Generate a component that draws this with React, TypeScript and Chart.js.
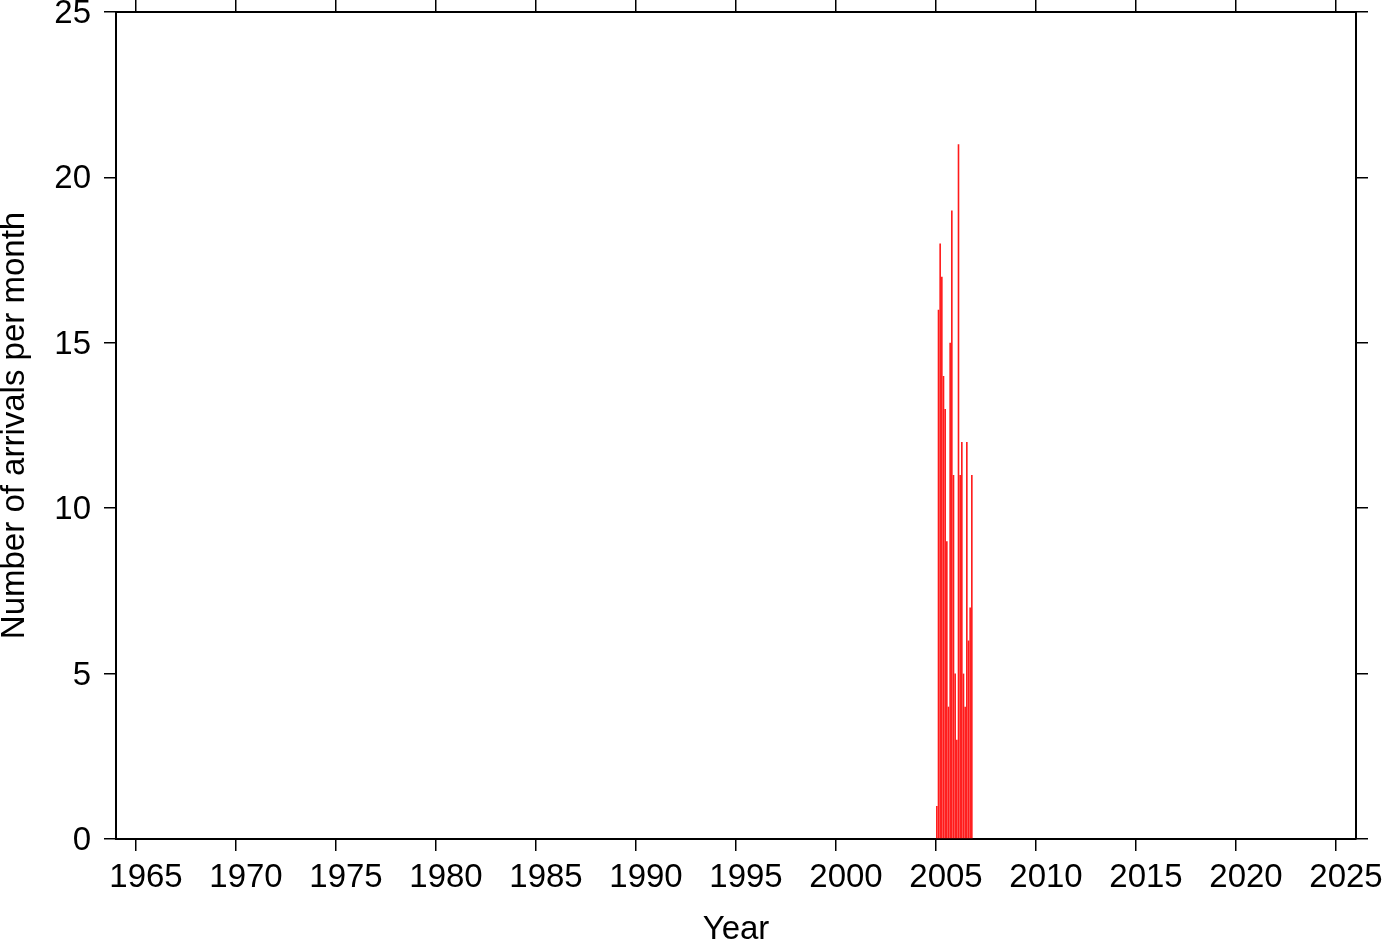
import React, { useEffect, useRef } from "react";
import { Chart, registerables } from "chart.js";

Chart.register(...registerables);

// Monthly arrivals (month, count)
const months = [
  "2005-01", "2005-02", "2005-03", "2005-04", "2005-05", "2005-06",
  "2005-07", "2005-08", "2005-09", "2005-10", "2005-11", "2005-12",
  "2006-01", "2006-02", "2006-03", "2006-04", "2006-05", "2006-06",
  "2006-07", "2006-08", "2006-09", "2006-10",
];
const arrivals = [1, 16, 18, 17, 14, 13, 9, 4, 15, 19, 11, 5, 3, 21, 11, 12, 5, 4, 12, 6, 7, 11];

const yearTicks = [1965, 1970, 1975, 1980, 1985, 1990, 1995, 2000, 2005, 2010, 2015, 2020, 2025];
const countTicks = [0, 5, 10, 15, 20, 25];
const xMin = 1964;
const xMax = 2026;
const yMin = 0;
const yMax = 25;

const xTitle = "Year";
const yTitle = "Number of arrivals per month";

function monthToYear(m: string): number {
  const [y, mo] = m.split("-").map(Number);
  return y + (mo - 0.5) / 12;
}

const FONT = "'Liberation Sans', Arial, Helvetica, sans-serif";

export default function App() {
  const ref = useRef<HTMLCanvasElement | null>(null);

  useEffect(() => {
    if (!ref.current) return;
    const fixTicks = (vals: number[]) => (scale: any) => {
      scale.ticks = vals.map((v) => ({ value: v }));
    };
    const fit = (w: number | null, h: number | null) => (s: any) => {
      if (w !== null) s.width = w;
      if (h !== null) s.height = h;
      s.paddingTop = 0;
      s.paddingBottom = 0;
      s.paddingLeft = 0;
      s.paddingRight = 0;
    };
    const gridOpts = {
      drawOnChartArea: false,
      drawTicks: true,
      tickLength: 12,
      color: "#000",
      lineWidth: 1.5,
      offset: false,
    };
    const borderOpts = { display: true, color: "#000", width: 2 };

    const chart = new Chart(ref.current, {
      type: "bar",
      data: {
        datasets: [
          {
            data: months.map((m, i) => ({ x: monthToYear(m), y: arrivals[i] })),
            backgroundColor: "#ff1a1a",
            borderWidth: 0,
            barPercentage: 0.97,
            categoryPercentage: 1,
            xAxisID: "x",
            yAxisID: "y",
          },
        ],
      },
      options: {
        responsive: false,
        animation: false,
        devicePixelRatio: 1,
        layout: { padding: 0 },
        plugins: { legend: { display: false }, tooltip: { enabled: false } },
        font: { family: FONT },
        scales: {
          x: {
            type: "linear",
            position: "bottom",
            offset: false,
            min: xMin,
            max: xMax,
            afterBuildTicks: fixTicks(yearTicks),
            afterFit: fit(null, 103),
            grid: gridOpts,
            border: borderOpts,
            ticks: {
              color: "#000",
              font: { family: FONT, size: 33 },
              padding: 7,
              labelOffset: 10,
              maxRotation: 0,
              minRotation: 0,
              autoSkip: false,
              callback: (v: any) => String(v),
            },
            title: {
              display: true,
              text: xTitle,
              color: "#000",
              font: { family: FONT, size: 33, lineHeight: 0.75 },
              padding: 0,
            },
          },
          x2: {
            type: "linear",
            position: "top",
            offset: false,
            min: xMin,
            max: xMax,
            afterBuildTicks: fixTicks(yearTicks),
            afterFit: fit(null, 12),
            grid: gridOpts,
            border: borderOpts,
            ticks: { display: false },
          },
          y: {
            type: "linear",
            position: "left",
            min: yMin,
            max: yMax,
            afterBuildTicks: fixTicks(countTicks),
            afterFit: fit(116, null),
            grid: gridOpts,
            border: borderOpts,
            ticks: {
              color: "#000",
              font: { family: FONT, size: 33 },
              padding: 13,
              labelOffset: 2,
              callback: (v: any) => String(v),
            },
            title: {
              display: true,
              text: yTitle,
              color: "#000",
              font: { family: FONT, size: 33, lineHeight: 0.9 },
              padding: 0,
            },
          },
          y2: {
            type: "linear",
            position: "right",
            min: yMin,
            max: yMax,
            afterBuildTicks: fixTicks(countTicks),
            afterFit: fit(26, null),
            grid: gridOpts,
            border: borderOpts,
            ticks: { display: false },
          },
        },
      } as any,
    });
    return () => chart.destroy();
  }, []);

  return (
    <div style={{ position: "absolute", left: 0, top: 0, width: 1382, height: 942, background: "#fff" }}>
      <canvas ref={ref} width={1382} height={942} style={{ display: "block", width: 1382, height: 942 }} />
    </div>
  );
}
